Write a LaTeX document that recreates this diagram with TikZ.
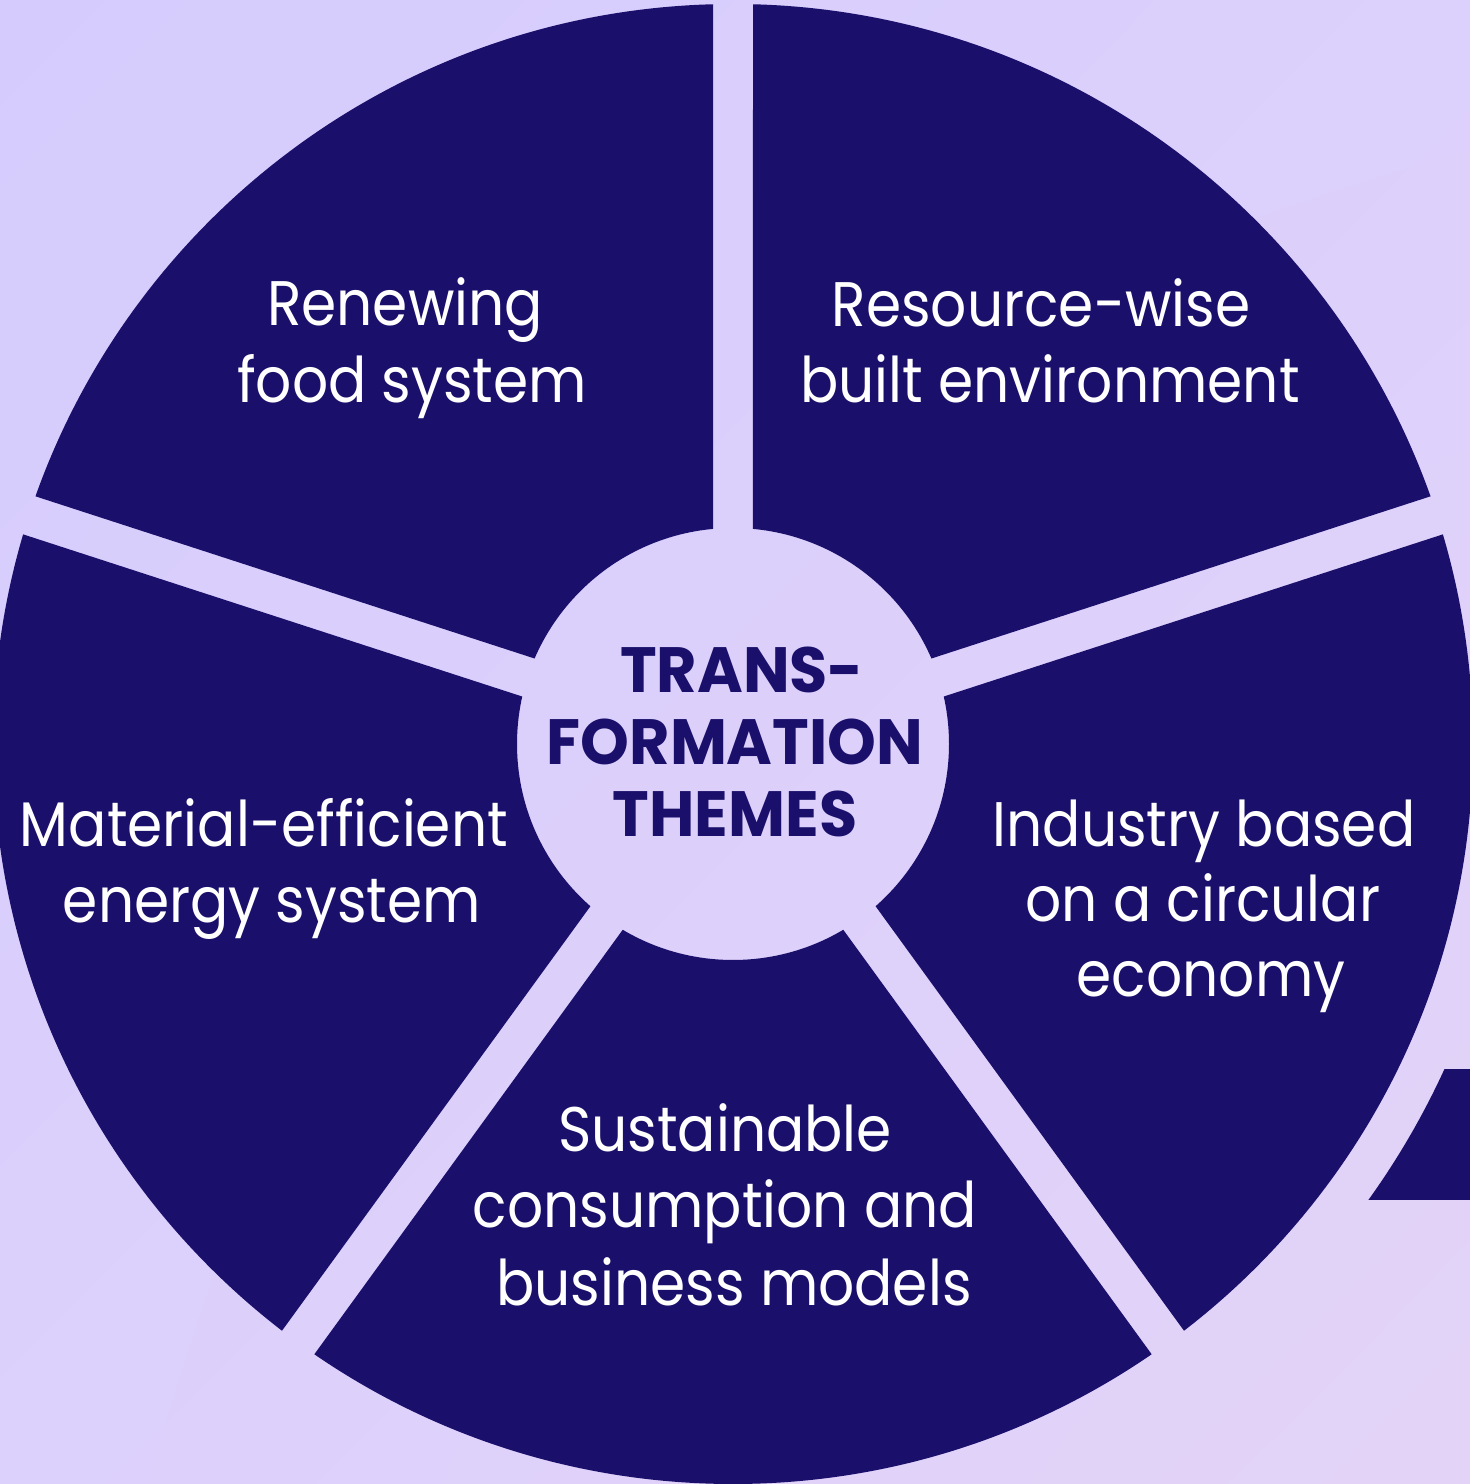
\documentclass[tikz,border=0pt]{standalone}
\usepackage{fontspec}
\setmainfont{Poppins}[FakeStretch=0.9]
\newfontfamily\ctrfont{Poppins}[FakeStretch=0.97]
\usetikzlibrary{calc,shadings}
\definecolor{navy}{HTML}{1A106B}
\definecolor{lav}{HTML}{DCD0FC}
\definecolor{lavTL}{HTML}{D5CCFD}
\definecolor{lavBR}{HTML}{E3D3F7}
\begin{document}
\begin{tikzpicture}[x=0.01cm,y=0.01cm,
  lbl/.style={text=white,font=\fontsize{17.9}{21}\selectfont,inner sep=0pt,anchor=base},
  ctr/.style={text=navy,font=\ctrfont\bfseries\fontsize{18.2}{21}\selectfont,inner sep=0pt,anchor=base},
  seg/.style={fill=navy}]
\useasboundingbox (0,0) rectangle (1470,1484);
\clip (0,0) rectangle (1470,1484);
\shade[upper left=lavTL,upper right=lav,lower left=lav,lower right=lavBR] (0,0) rectangle (1470,1484);
\coordinate (C) at (733,740);
% five segments
\begin{scope}[even odd rule]
  \clip (C) circle[radius=740] (C) circle[radius=216];
  \foreach \a in {18,90,162,234,306}{
    \fill[seg] ($(C)+(\a+36:34)$) -- ($(C)+(\a:1000)+(\a+90:20)$)
      -- ($(C)+(\a+36:1400)$) -- ($(C)+(\a+72:1000)+(\a+72-90:20)$) -- cycle;
  }
\end{scope}
% partial outer piece at right edge
\begin{scope}
  \clip (1200,284) rectangle (1470,414);
  \fill[seg,even odd rule] (1000,100) rectangle (1700,600) (C) circle[radius=782];
\end{scope}
% labels
\node[lbl] (r1) at (405,1158) {Renewing};
\node[lbl] (r2) at (412,1081) {food system};
\node[lbl] (b1) at (1041,1157) {Resource-wise};
\node[lbl] (b2) at (1050,1081) {built environment};
\node[lbl] (m1) at (264,637) {Material-efficient};
\node[lbl] (m2) at (272,561) {energy system};
\node[lbl] (i1) at (1204,637) {Industry based};
\node[lbl] (i2) at (1203,562) {on a circular};
\node[lbl] (i3) at (1211,487) {economy};
\node[lbl] (s1) at (725,332) {Sustainable};
\node[lbl] (s2) at (725,256) {consumption and};
\node[lbl] (s3) at (734,179) {business models};
\node[ctr] (t1) at (742,791) {TRANS-};
\node[ctr] (t2) at (735,719) {FORMATION};
\node[ctr] (t3) at (735,647) {THEMES};
\end{tikzpicture}
\end{document}
